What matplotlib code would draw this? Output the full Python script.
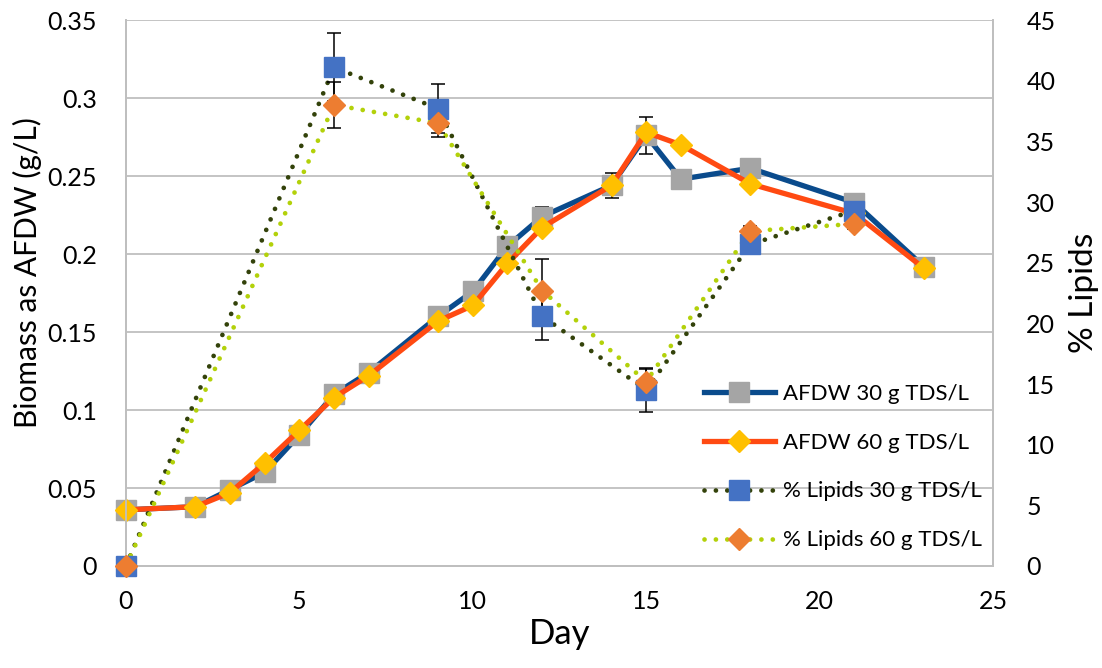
import numpy as np
import matplotlib
matplotlib.use('Agg')
import matplotlib.pyplot as plt
from matplotlib.lines import Line2D

plt.rcParams['font.family'] = ['Lato', 'DejaVu Sans']

# biomass (AFDW, g/L)
days_afdw = [0, 2, 3, 4, 5, 6, 7, 9, 10, 11, 12, 14, 15, 16, 18, 21, 23]
afdw_30 = [0.036, 0.038, 0.049, 0.060, 0.084, 0.110, 0.124, 0.160, 0.176, 0.205, 0.224,
           0.244, 0.276, 0.248, 0.255, 0.233, 0.192]
afdw_30_err = [0.001, 0.001, 0.001, 0.001, 0.001, 0.001, 0.001, 0.002, 0.004, 0.006, 0.006,
               0.008, 0.012, 0.001, 0.001, 0.001, 0.001]
afdw_60 = [0.036, 0.038, 0.047, 0.066, 0.087, 0.108, 0.122, 0.157, 0.167, 0.194, 0.217,
           0.244, 0.278, 0.270, 0.245, 0.226, 0.191]

# lipids (%)
days_lip = [0, 6, 9, 12, 15, 18, 21]
lip_30 = [0, 41.1, 37.7, 20.6, 14.5, 26.5, 29.3]
lip_30_err = [0, 2.8, 2.0, 2.0, 1.8, 0.4, 0.4]
lip_60 = [0, 38.0, 36.5, 22.7, 15.2, 27.6, 28.2]
lip_60_err = [0, 1.9, 1.1, 2.6, 1.0, 0.4, 0.4]

labels = ['AFDW 30 g TDS/L', 'AFDW 60 g TDS/L', '% Lipids 30 g TDS/L', '% Lipids 60 g TDS/L']

fig = plt.figure(figsize=(11.02, 6.68), dpi=100)
ax = fig.add_axes([0.1143, 0.1527, 0.7868, 0.8173])
ax2 = ax.twinx()

gray = '#bfbfbf'
blue_line, gray_mk = '#0a4b8c', '#a5a5a5'
red_line, yel_mk = '#ff4a12', '#ffc000'
dk_dot, blue_mk = '#33420a', '#4472c4'
lt_dot, orange_mk = '#b3d10a', '#ed7d31'
dots = (0, (0.01, 2.4))
sq, di = 14.5, 11

# AFDW series
ax.errorbar(days_afdw, afdw_30, yerr=afdw_30_err, fmt='none', ecolor='black', elinewidth=1.1,
            capsize=5, capthick=1.1, zorder=2)
ax.plot(days_afdw, afdw_30, color=blue_line, lw=3.8, marker='s', ms=sq,
        mfc=gray_mk, mec=gray_mk, zorder=3, clip_on=False)
ax.plot(days_afdw, afdw_60, color=red_line, lw=3.8, marker='D', ms=di,
        mfc=yel_mk, mec=yel_mk, zorder=4, clip_on=False)

# lipid series (secondary axis)
ax2.plot(days_lip, lip_30, color=dk_dot, lw=3.4, linestyle=dots, dash_capstyle='round', zorder=2)
ax2.plot(days_lip, lip_60, color=lt_dot, lw=3.4, linestyle=dots, dash_capstyle='round', zorder=2)
ax2.errorbar(days_lip, lip_30, yerr=lip_30_err, fmt='none', ecolor='black', elinewidth=1.1,
             capsize=5, capthick=1.1, zorder=3)
ax2.errorbar(days_lip, lip_60, yerr=lip_60_err, fmt='none', ecolor='black', elinewidth=1.1,
             capsize=5, capthick=1.1, zorder=3)
ax2.plot(days_lip, lip_30, ls='none', marker='s', ms=sq, mfc=blue_mk, mec=blue_mk, zorder=4,
         clip_on=False)
ax2.plot(days_lip, lip_60, ls='none', marker='D', ms=di, mfc=orange_mk, mec=orange_mk, zorder=5,
         clip_on=False)

ax.set_xlim(0, 25)
ax.set_ylim(0, 0.35)
ax2.set_ylim(0, 45)
ax.set_xticks(np.arange(0, 26, 5))
ax.set_yticks(np.arange(0, 0.351, 0.05))
ax.set_yticklabels(['0', '0.05', '0.1', '0.15', '0.2', '0.25', '0.3', '0.35'])
ax2.set_yticks(np.arange(0, 46, 5))
ax.grid(axis='y', color=gray, lw=1.3)
ax.set_axisbelow(True)

for a in (ax, ax2):
    a.spines['top'].set_visible(False)
    for s in ('left', 'right', 'bottom'):
        a.spines[s].set_color(gray)
        a.spines[s].set_linewidth(1.3)
    a.tick_params(length=0, labelsize=18, colors='black')
ax.tick_params(axis='x', pad=17)
ax.tick_params(axis='y', pad=21)
ax2.tick_params(axis='y', pad=24)

ax.set_xlabel('Day', fontsize=25, labelpad=4)
ax.set_ylabel('Biomass as AFDW (g/L)', fontsize=21.5)
ax.yaxis.set_label_coords(-0.097, 0.538)
ax2.set_ylabel('% Lipids', fontsize=24, labelpad=10)

handles = [
    Line2D([], [], color=blue_line, lw=3.8, marker='s', ms=sq, mfc=gray_mk, mec=gray_mk),
    Line2D([], [], color=red_line, lw=3.8, marker='D', ms=di, mfc=yel_mk, mec=yel_mk),
    Line2D([], [], color=dk_dot, lw=3.4, ls=dots, dash_capstyle='round', marker='s', ms=sq,
           mfc=blue_mk, mec=blue_mk),
    Line2D([], [], color=lt_dot, lw=3.4, ls=dots, dash_capstyle='round', marker='D', ms=di,
           mfc=orange_mk, mec=orange_mk),
]
ax2.legend(handles, labels, loc='lower right', bbox_to_anchor=(1.01, -0.008), frameon=False,
           fontsize=16, handlelength=3.2, handletextpad=0.35, labelspacing=1.3)

fig.savefig('out.png', dpi=100)
